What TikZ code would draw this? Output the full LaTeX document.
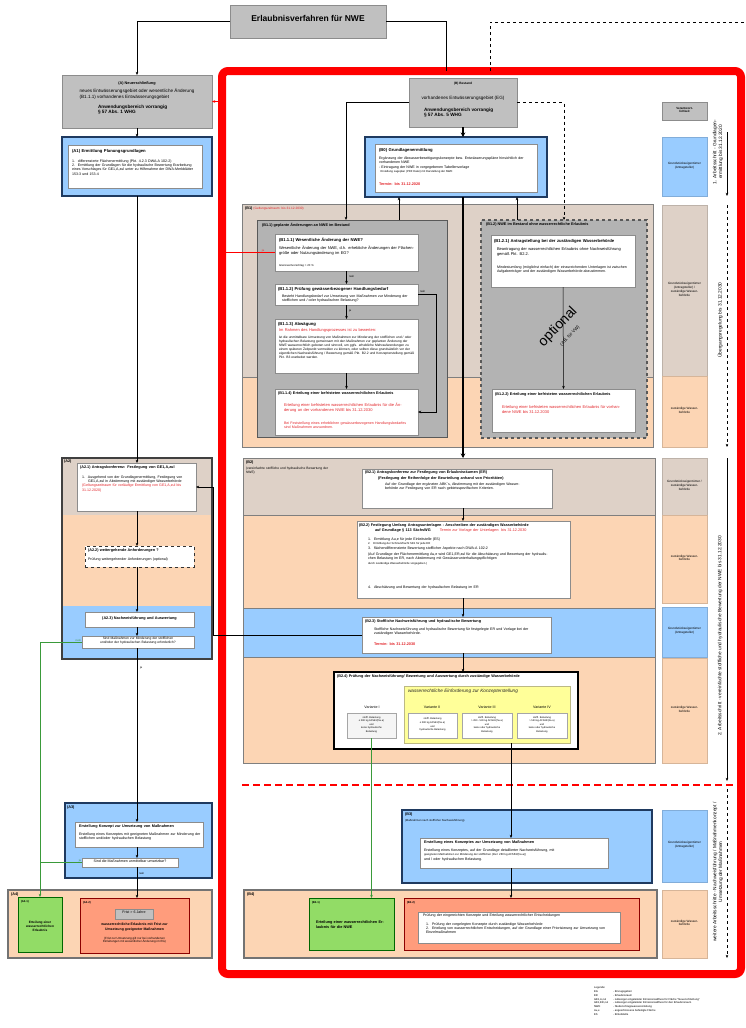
\documentclass[tikz,border=0pt]{standalone}
\usepackage{fontspec}
\setmainfont{Liberation Sans}
\usetikzlibrary{arrows.meta,fit,calc}
\definecolor{boxgray}{HTML}{C0C0C0}
\definecolor{bordgray}{HTML}{8C8C8C}
\definecolor{tanc}{HTML}{DED1C7}
\definecolor{orangec}{HTML}{FCD5B4}
\definecolor{bluec}{HTML}{99CCFF}
\definecolor{navyc}{HTML}{1F3A60}
\definecolor{midgray}{HTML}{B3B3B3}
\definecolor{greenc}{HTML}{92DC66}
\definecolor{salmonc}{HTML}{FF9C7C}
\definecolor{yellowc}{HTML}{FFFF99}
\definecolor{greenl}{HTML}{3A9A3A}
\definecolor{redc}{HTML}{FF0000}
\definecolor{txtred}{HTML}{E3262B}
\definecolor{framec}{HTML}{7F7F7F}
\newcommand\nsp{\spaceskip=0pt\xspaceskip=0pt\relax}
\newcommand\sT{\fontsize{8.5}{10}\selectfont\bfseries\nsp}
\newcommand\sH{\fontsize{4.2}{5}\selectfont\bfseries\nsp}
\newcommand\sHs{\fontsize{3.8}{4.6}\selectfont\bfseries\nsp}
\newcommand\sN{\fontsize{4}{4.8}\selectfont\nsp}
\newcommand\sM{\fontsize{3.6}{4.3}\selectfont\nsp}
\newcommand\sS{\fontsize{2.8}{3.4}\selectfont\nsp}
\newcommand\sP{\fontsize{4.8}{5.6}\selectfont\nsp}
\newcommand\itm[2]{\par\hangindent=6pt\hangafter=1\noindent\makebox[6pt][l]{#1}#2}
\tikzset{
  every node/.style={inner sep=0pt, outer sep=0pt},
  gbox/.style={draw=bordgray, fill=boxgray, line width=0.6pt},
  wbox/.style={draw=black!45, fill=white, line width=0.4pt},
  bfr/.style={draw=navyc, fill=bluec, line width=1.3pt},
  fr/.style={draw=framec, line width=1pt},
  tx/.style={anchor=north west, align=left, text width=#1pt},
  ctx/.style={anchor=north, align=center, text width=#1pt},
  arr/.style={-{Stealth[length=3.2pt,width=2.6pt]}, line width=0.5pt},
  thk/.style={line width=2pt, -{Stealth[length=4.5pt,width=4.5pt]}},
  grn/.style={draw=greenl, line width=0.6pt},
  lbl/.style={font=\sS},
  resp/.style={draw=#1!85!black, fill=#1, line width=0.3pt, align=center, font=\fontsize{3.1}{3.8}\selectfont},
  vbox/.style={draw=black!35, line width=0.4pt, align=center, font=\fontsize{2.5}{3.6}\selectfont},
  phase/.style={rotate=90, align=center, font=\sP},
}
\begin{document}
\begin{tikzpicture}[x=1pt,y=-1pt]
\useasboundingbox[fill=white] (0,0) rectangle (745,1028);

% ---------------- red frame
\node[draw=redc, line width=8pt, rounded corners=6pt, fit={(222,71)(741,974)}] (RF) {};

% ---------------- title
\node[gbox, fit={(230,5)(386,38)}, font=\sT] (T) {Erlaubnisverfahren für NWE};
\coordinate (cT) at (446,21.5);
\coordinate (cD) at (490,22);
\coordinate (cDe) at (745,22);
\draw[line width=0.7pt] (T.east) -- (cT) -- (cT |- RF.north);
\draw[dashed, line width=0.5pt] (cD |- RF.north) -- (cD) -- (cDe);

% ---------------- column A
\coordinate (cA) at (137,0);
\node[gbox, fit={(62,75)(212,128)}] (A) {};
\node[font=\sHs] at (137,84) {(A) Neuerschließung};
\node[anchor=north, align=left, font=\fontsize{4.6}{5.8}\selectfont] at (137,89) {neues Entwässerungsgebiet oder wesentliche Änderung\\(B1.1.1) vorhandenes Entwässerungsgebiet};
\node[anchor=north west, align=left, font=\fontsize{4.7}{5.2}\selectfont\bfseries] at (98,105) {Anwendungsbereich vorrangig\\§ 57 Abs. 1 WHG};
\draw[arr] (T.west) -| (A.north);
\draw[arr, draw=redc, line width=0.8pt] (RF.west |- A.east) -- (A.east);

\node[bfr, fit={(62,137)(212,196)}] (A1) {};
\node[wbox, fit={(68,145)(202,188)}] (A1w) {};
\node[tx=128, font=\sH] at (72,149) {(A1) Ermittlung Planungsgrundlagen};
\node[tx=126, font=\sM] at (72,158) {\itm{1.}{differenzierte Flächenermittlung (Pkt. 4.2.3 DWA-A 102-2)}\itm{2.}{Ermittlung der Grundlagen für die hydraulische Bewertung Erarbeitung eines Vorschlages für GE1,A,zul unter zu Hilfenahme der DWA-Merkblätter 153-3 und 153-4}};
\draw[arr] (A.south) -- (A1.north);

% A2
\fill[tanc] (62,458) rectangle (212,515);
\fill[orangec] (62,515) rectangle (212,606);
\fill[bluec] (62,606) rectangle (212,659);
\node[draw=black!75, line width=1.2pt, fit={(62,458)(212,659)}] (A2) {};
\node[anchor=north west, font=\sHs] at (64,460) {(A2)};
\node[wbox, fit={(77,463)(196,511)}] (A21) {};
\node[tx=112, font=\sHs] at (80,466) {(A2.1) Antragskonferenz: Festlegung von GE1,A,zul};
\node[tx=108, font=\sM] at (82,474) {\itm{1.}{Ausgehend von der Grundlagenermittlung, Festlegung von GE1,A,zul in Abstimmung mit zuständiger Wasserbehörde}\par\noindent{\color{txtred}(Geltungszeitraum für vorläufige Ermittlung von GE1,A,zul bis 31.12.2020)}};
\node[draw=black!80, dashed, line width=0.9pt, fill=white, fit={(85,546)(194,567)}] (A22) {};
\node[tx=104, font=\sHs] at (88,549) {(A2.2) weitergehende Anforderungen ?};
\node[tx=104, font=\sM] at (88,558) {Prüfung weitergehender Anforderungen (optional)};
\node[wbox, fit={(85,612)(194,627)}, font=\sHs] (A23) {(A2.3) Nachweisführung und Auswertung};
\node[wbox, fit={(82,636)(194,648)}, align=center, font=\fontsize{3.3}{4.2}\selectfont] (A2d) {Sind Maßnahmen zur Minderung der stofflichen\\ und/oder der hydraulischen Belastung erforderlich?};
\draw[arr] (A1.south) -- (A21.north -| cA);
\draw[arr] (A21.south -| cA) -- (A22.north -| cA);
\draw[arr] (A22.south -| cA) -- (A23.north -| cA);
\draw[arr] (A23.south -| cA) -- (A2d.north -| cA);

% A3
\node[bfr, fit={(65,803)(212,878)}] (A3) {};
\node[anchor=north west, font=\sHs] at (67,806) {(A3)};
\node[wbox, fit={(75,822)(203,847)}] (A3w) {};
\node[tx=122, font=\sHs] at (79,825) {Erstellung Konzept zur Umsetzung von Maßnahmen};
\node[tx=122, font=\sM] at (79,833) {Erstellung eines Konzeptes mit geeigneten Maßnahmen zur Minderung der stofflichen und/oder hydraulischen Belastung};
\node[wbox, fit={(82,858)(178,867)}, font=\sM] (A3d) {Sind die Maßnahmen unmittelbar umsetzbar?};
\draw[arr] (A2d.south -| cA) -- (A3w.north -| cA);
\node[lbl, anchor=west] at (140,668) {ja};
\draw[arr] (A3w.south -| cA) -- (A3d.north -| cA);

% A4
\node[fill=orangec, draw=black!55, line width=1.2pt, fit={(8,890)(212,958)}] (A4) {};
\node[anchor=north west, font=\sHs] at (11,893) {(A4)};
\node[fill=greenc, draw=green!40!black, line width=0.6pt, fit={(18,897)(62,952)}] (A41) {};
\node[anchor=north west, font=\sS\bfseries] at (21,900) {(A4.1)};
\node[align=center, font=\fontsize{3.2}{4}\selectfont\bfseries] at (40,926) {Erteilung einer\\wasserrechtlichen\\Erlaubnis};
\node[fill=salmonc, draw=red!55!black, line width=0.6pt, fit={(80,898)(189,953)}] (A42) {};
\node[anchor=north west, font=\sS\bfseries] at (83,901) {(A4.2)};
\node[gbox, fit={(115,909)(153,919)}, font=\sM] (Fr) {Frist > 6 Jahre};
\node[align=center, font=\fontsize{3.5}{4.6}\selectfont\bfseries, anchor=north] at (134.5,923) {wasserrechtliche Erlaubnis mit Frist zur\\Umsetzung geeigneter Maßnahmen};
\node[align=center, font=\fontsize{3}{3.8}\selectfont, anchor=north] at (134.5,937) {(Frist zur Umsetzung gilt nur bei vorhandenen\\Einleitungen mit wesentlicher Änderung im EG)};
\draw[arr] (A3d.south -| cA) -- (A42.north -| cA);
\node[lbl, anchor=west] at (139,873) {nein};

% green connectors
\draw[grn, arr] (A2d.west) -| (A41.north);
\node[lbl, text=greenl, anchor=south east] at (81,642) {nein};
\draw[grn] (A3d.west) -- (A3d.west -| A41.north);
\node[lbl, text=greenl, anchor=south east] at (81,862) {ja};

% ---------------- column B
\node[gbox, fit={(409,78)(517,127)}] (B) {};
\node[font=\fontsize{3.2}{4}\selectfont\bfseries] at (463,84) {(B) Bestand};
\node[font=\fontsize{4.6}{5}\selectfont] at (463,98) {vorhandenes Entwässerungsgebiet (EG)};
\node[anchor=north west, align=left, font=\fontsize{4.7}{5.2}\selectfont\bfseries] at (424,108) {Anwendungsbereich vorrangig\\§ 57 Abs. 5 WHG};

\node[bfr, fit={(365,137)(547,197)}] (B0) {};
\node[wbox, fit={(375,144)(537,192)}] (B0w) {};
\node[tx=156, font=\sH] at (379,148) {(B0) Grundlagenermittlung};
\node[tx=156, font=\sM] at (379,157) {Ergänzung der Abwasserbeseitigungskonzepte bzw. Entwässerungspläne hinsichtlich der vorhandenen NWE\\ - Eintragung der NWE in vorgegebenen Tabellenvorlage\\ {\sS\ \ Erstellung Lageplan (PDF Datei) mit Darstellung der NWE}};
\node[tx=156, font=\sHs, text=txtred] at (379,183) {Termin: bis 31.12.2020};
\draw[thk] (B.south) -- (B.south |- B0.north);

% B1
\fill[tanc] (242,204) rectangle (653,377);
\fill[orangec] (242,377) rectangle (653,447);
\draw[framec, line width=0.5pt] (242,377) -- (653,377);
\node[fr, fit={(242,204)(653,447)}] (B1) {};
\node[anchor=north west, font=\sHs] at (245,207) {(B1) {\mdseries\fontsize{3.2}{4}\selectfont\nsp\color{txtred}(Geltungszeitraum: bis 31.12.2030)}};

\node[fill=midgray, draw=black!65, line width=1pt, fit={(257,220)(447,437)}] (B11) {};
\node[anchor=north west, font=\sHs] at (262,223) {(B1.1) geplante Änderungen an NWE im Bestand};
\node[wbox, fit={(275,234)(418,271)}] (B111) {};
\node[tx=137, font=\sH] at (279,238) {(B1.1.1) Wesentliche Änderung der NWE?};
\node[tx=137, font=\sN] at (279,246) {Wesentliche Änderung der NWE, d.h. erhebliche Änderungen der Flächengröße oder Nutzungsänderung im EG?};
\node[tx=137, font=\sS] at (279,264) {Grenzwertvorschlag > 20 \%};
\node[wbox, fit={(275,284)(418,305)}] (B112) {};
\node[tx=137, font=\sH] at (278,287) {(B1.1.2) Prüfung gewässerbezogener Handlungsbedarf};
\node[tx=132, font=\sM] at (282,295) {Besteht Handlungsbedarf zur Umsetzung von Maßnahmen zur Minderung der stofflichen und / oder hydraulischen Belastung?};
\node[wbox, fit={(275,319)(418,373)}] (B113) {};
\node[tx=137, font=\sH] at (278,322) {(B1.1.3) Abwägung};
\node[tx=137, font=\sN, text=txtred] at (279,329) {Im Rahmen des Handlungsprozesses ist zu bewerten:};
\node[tx=137, font=\fontsize{3.3}{4}\selectfont] at (279,336) {ist die unmittelbare Umsetzung von Maßnahmen zur Minderung der stofflichen und / oder hydraulischen Belastung gemeinsam mit den Maßnahmen zur geplanten Änderung der NWE wasserrechtlich geboten und sinnvoll, um ggfs. erhebliche Mehraufwendungen zu einem späteren Zeitpunkt vermeiden zu können, oder sollten diese grundsätzlich vor der eigentlichen Nachweisführung / Bewertung gemäß Pkt. B2.2 und Konzepterstellung gemäß Pkt. B3 erarbeitet werden.};
\node[wbox, fit={(275,389)(418,435)}] (B114) {};
\node[tx=137, font=\sHs] at (278,392) {(B1.1.4) Erteilung einer befristeten wasserrechtlichen Erlaubnis};
\node[tx=125, font=\sN, text=txtred] at (284,403) {Erteilung einer befristeten wasserrechtlichen Erlaubnis für die Änderung an der vorhandenen NWE bis 31.12.2030};
\node[tx=125, font=\sM, text=txtred] at (284,422) {Bei Feststellung eines erheblichen gewässerbezogenen Handlungsbedarfes sind Maßnahmen anzuordnen.};

\coordinate (cN) at (436,0);
\draw[arr] (B111.south) -- (B112.north);
\node[lbl, anchor=west] at (349,276) {nein};
\draw[arr] (B112.south) -- (B113.north);
\node[lbl, anchor=west] at (349,311) {ja};
\draw[arr] (B113.south) -- (B114.north);
\draw[arr] (B112.east) -- (B112.east -| cN) |- (B114.east);
\node[lbl, anchor=south west] at (420,293) {nein};
\draw[draw=redc, line width=0.8pt] (B111.west) -- (B111.west -| RF.west);
\node[lbl, text=txtred, anchor=south] at (263,252) {ja};

\node[fill=midgray, draw=black!65, dashed, line width=1.2pt, fit={(481,220)(647,438)}] (B12) {};
\node[anchor=north west, font=\sHs] at (486,223) {(B1.2) NWE im Bestand ohne wasserrechtliche Erlaubnis};
\node[wbox, fit={(491,235)(635,287)}] (B121) {};
\node[tx=140, font=\sH] at (494,239) {(B1.2.1) Antragstellung bei der zuständigen Wasserbehörde};
\node[tx=132, font=\sN] at (497,248) {Beantragung der wasserrechtlichen Erlaubnis ohne Nachweisführung gemäß Pkt. B2.2.};
\node[tx=132, font=\sM] at (497,266) {Mindestumfang (möglichst einfach) der einzureichenden Unterlagen ist zwischen Aufgabenträger und der zuständigen Wasserbehörde abzustimmen.};
\node[wbox, fit={(492,389)(635,432)}] (B122) {};
\node[tx=140, font=\sHs] at (495,393) {(B1.2.2) Erteilung einer befristeten wasserrechtlichen Erlaubnis};
\node[tx=122, font=\sN, text=txtred] at (502,406) {Erteilung einer befristeten wasserrechtlichen Erlaubnis für vorhandene NWE bis 31.12.2030};
\draw[arr] (B121.south) -- (B122.north);
\node[rotate=46, font=\fontsize{14}{14}\selectfont] at (558,327) {optional};
\node[rotate=46, font=\fontsize{4.5}{5}\selectfont] at (570,336) {(z.B. für VW)};

\coordinate (u1) at ([xshift=34pt]B0.south west);
\coordinate (u2) at ([xshift=-30pt]B0.south east);
\coordinate (v1) at ([xshift=89pt]B11.north west);
\draw[arr] (u1 |- B11.north) -- (u1);
\draw[arr] (u2 |- B12.north) -- (u2);
\draw[arr] (B.west) -| (v1);
\draw[arr, dashed] (B.east) -| (B12.north);

% B2
\fill[tanc] (243,458) rectangle (655,515);
\fill[orangec] (243,515) rectangle (655,608);
\fill[bluec] (243,608) rectangle (655,657);
\fill[orangec] (243,657) rectangle (655,763);
\draw[framec, line width=0.5pt] (243,515) -- (655,515) (243,608) -- (655,608) (243,657) -- (655,657);
\node[fr, fit={(243,458)(655,763)}] (B2) {};
\draw[thk] (B.south |- B0.south) -- (B.south |- B2.north);
\node[anchor=north west, font=\sHs] at (246,461) {(B2)};
\node[tx=90, font=\fontsize{3.3}{4}\selectfont] at (246,467) {(vereinfachte stoffliche und hydraulische Bewertung der NWE)};

\node[wbox, fit={(362,469)(552,508)}] (B21) {};
\node[tx=186, font=\sHs] at (365,471) {(B2.1) Antragskonferenz zur Festlegung von Erlaubnisräumen (ER)};
\node[tx=175, font=\sHs] at (378,477) {(Festlegung der Reihenfolge der Beurteilung anhand von Prioritäten)};
\node[tx=138, font=\sM] at (385,483) {Auf der Grundlage der ergänzten ABK´s, Abstimmung mit der zuständigen Wasserbehörde zur Festlegung von ER nach gebietsspezifischen Kriterien.};

\node[wbox, fit={(357,521)(570,598)}] (B22) {};
\node[tx=210, font=\sHs] at (359,524) {(B2.2) Festlegung Umfang Antragsunterlagen - Anschreiben der zuständigen Wasserbehörde};
\node[tx=195, font=\sHs] at (375,529) {auf Grundlage § 113 SächsWG\hspace{9pt}{\color{txtred}\mdseries Termin zur Vorlage der Unterlagen: bis 31.12.2030}};
\node[tx=185, font=\sM] at (368,538) {1.\hspace{3pt}Ermittlung Au,e für jede Einleitstelle (ES)\\ {\sS 2.\hspace{3pt}Ermittlung der Schmutzfracht SE1 für jede ER}\\ 3.\hspace{3pt}flächendifferenzierte Bewertung stofflicher Aspekte nach DWA-A 102-2};
\node[tx=185, font=\sM] at (368,553) {(Auf Grundlage der Flächenermittlung Au,e wird GE1,ER,zul für die Abschätzung und Bewertung der hydraulischen Belastung im ER, nach Abstimmung mit Gewässerunterhaltungspflichtigen\\ {\sS durch zuständige Wasserbehörde vorgegeben.)}};
\node[tx=185, font=\sM] at (368,586) {4.\hspace{3pt}Abschätzung und Bewertung der hydraulischen Belastung im ER};

\node[wbox, fit={(362,617)(551,653)}] (B23) {};
\node[tx=186, font=\sHs] at (365,620) {(B2.3) Stoffliche Nachweisführung und hydraulische Bewertung};
\node[tx=165, font=\sM] at (374,628) {Stoffliche Nachweisführung und hydraulische Bewertung für festgelegte ER und Vorlage bei der zuständigen Wasserbehörde.};
\node[tx=165, font=\sHs, text=txtred] at (374,643) {Termin: bis 31.12.2030};

\node[draw=black, line width=1.5pt, fill=white, fit={(334,672)(578,749)}] (B24) {};
\node[tx=240, font=\sHs] at (337,675) {(B2.4) Prüfung der Nachweisführung/ Bewertung und Auswertung durch zuständige Wasserbehörde};
\node[fill=yellowc, draw=yellow!50!black!60, line width=0.6pt, fit={(404,686)(570,743)}] (Y) {};
\node[anchor=north west, font=\fontsize{4.7}{5}\selectfont\itshape, text=black!85] at (408,689) {wasserrechtliche Einforderung zur Konzepterstellung};
\node[font=\sM] at (372,707) {Variante I};
\node[font=\sM] at (432,707) {Variante II};
\node[font=\sM] at (487,707) {Variante III};
\node[font=\sM] at (542,707) {Variante IV};
\node[vbox, fill=gray!8, fit={(347,713)(396,738)}] (V1) {stoffl. Belastung\\≤ 280 kg AFS63/(ha·a)\\und\\keine hydraulische\\Belastung};
\node[vbox, fill=white, fit={(408,713)(457,738)}] (V2) {stoffl. Belastung\\≤ 280 kg AFS63/(ha·a)\\und\\hydraulische Belastung};
\node[vbox, fill=white, fit={(462,713)(512,738)}] (V3) {stoffl. Belastung\\> 280 - 530 kg AFS63/(ha·a)\\und\\keine oder hydraulische\\Belastung};
\node[vbox, fill=white, fit={(517,713)(567,738)}] (V4) {stoffl. Belastung\\> 530 kg AFS63/(ha·a)\\und\\keine oder hydraulische\\Belastung};

\coordinate (cx) at (463,0);
\draw[arr] (B21.south -| cx) -- (B22.north -| cx);
\draw[arr] (B22.south -| cx) -- (B23.north -| cx);
\draw[arr] (B23.south -| cx) -- (B24.north -| cx);

% back arrow B2.3 -> A2.1
\coordinate (cL) at (213,0);
\draw[arr] (B23.west) -- (B23.west -| cL) |- (A21.east);

% red dashed separator
\coordinate (sd1) at (242,785);
\coordinate (sd2) at (737,785);
\draw[redc, line width=1.3pt, dash pattern=on 7pt off 4pt] (sd1) -- (sd2);

% B3
\node[bfr, fit={(402,810)(652,883)}] (B3) {};
\node[anchor=north west, font=\sHs] at (405,813) {(B3)};
\node[anchor=north west, font=\sS] at (405,819) {(Maßnahmen nach stofflicher Nachweisführung)};
\node[wbox, fit={(420,838)(608,868)}] (B3w) {};
\node[tx=180, font=\sHs] at (424,841) {Erstellung eines Konzeptes zur Umsetzung von Maßnahmen};
\node[tx=180, font=\sM] at (424,849) {Erstellung eines Konzeptes, auf der Grundlage detaillierter Nachweisführung, mit\\{\sS geeigneten Maßnahmen zur Minderung der stofflichen (Ziel: 280 kg AFS63/(ha·a))}\\und / oder hydraulischen Belastung.};

% B4
\node[fill=orangec, draw=black!55, line width=1.2pt, fit={(244,890)(657,958)}] (B4) {};
\node[anchor=north west, font=\sHs] at (247,893) {(B4)};
\node[fill=greenc, draw=green!40!black, line width=0.6pt, fit={(309,898)(394,950)}] (B41) {};
\node[anchor=north west, font=\sS\bfseries] at (312,901) {(B4.1)};
\node[tx=72, font=\fontsize{3.8}{4.8}\selectfont\bfseries] at (316,921) {Erteilung einer wasserrechtlichen Erlaubnis für die NWE};
\node[fill=salmonc, draw=red!55!black, line width=0.6pt, fit={(404,898)(639,950)}] (B42) {};
\node[anchor=north west, font=\sS\bfseries] at (407,901) {(B4.2)};
\node[wbox, fit={(418,912)(620,943)}] (B42w) {};
\node[tx=195, font=\sM] at (423,914) {Prüfung der eingereichten Konzepte und Erteilung wasserrechtlicher Entscheidungen};
\node[tx=190, font=\sM] at (426,921) {\itm{1.}{Prüfung der vorgelegten Konzepte durch zuständige Wasserbehörde}\itm{2.}{Erteilung von wasserrechtlichen Entscheidungen, auf der Grundlage einer Priorisierung zur Umsetzung von Einzelmaßnahmen}};

\coordinate (cY) at (511,0);
\draw[grn, arr] (V1.south) -- (V1.south |- B41.north);
\draw[arr] (Y.south -| cY) -- (B3w.north -| cY);
\draw[arr] (B3w.south -| cY) -- (B42.north -| cY);

% ---------------- responsibility column
\node[gbox, fit={(662,102)(707,120)}, align=center, font=\fontsize{3}{3.8}\selectfont\bfseries] (VH) {Verantwort-\\lichkeit};
\node[resp=bluec, fit={(662,137)(707,196)}] (R1) {Grundstückseigentümer\\(Antragsteller)};
\node[resp=tanc, fit={(662,205)(707,376)}] (R2) {Grundstückseigentümer\\(Antragsteller) /\\zuständige Wasser-\\behörde};
\node[resp=orangec, fit={(662,376)(707,447)}] (R3) {zuständige Wasser-\\behörde};
\node[resp=tanc, fit={(662,458)(707,515)}] (R4) {Grundstückseigentümer /\\zuständige Wasser-\\behörde};
\node[resp=orangec, fit={(662,515)(707,603)}] (R5) {zuständige Wasser-\\behörde};
\node[resp=bluec, fit={(662,607)(707,657)}] (R6) {Grundstückseigentümer\\(Antragsteller)};
\node[resp=orangec, fit={(662,658)(707,763)}] (R7) {zuständige Wasser-\\behörde};
\node[resp=bluec, fit={(662,810)(707,882)}] (R8) {Grundstückseigentümer\\(Antragsteller)};
\node[resp=orangec, fit={(662,890)(707,958)}] (R9) {zuständige Wasser-\\behörde};

% phase arrows
\coordinate (p1a) at (727,132); \coordinate (p1b) at (727,196);
\coordinate (p2a) at (727,205); \coordinate (p2b) at (727,447);
\coordinate (p3a) at (727,458); \coordinate (p3b) at (727,781);
\coordinate (p4a) at (727,789); \coordinate (p4b) at (727,958);
\draw[arr, line width=0.8pt] (p1a) -- (p1b);
\draw[arr, line width=0.8pt, dashed] (p2a) -- (p2b);
\draw[arr, line width=0.8pt] (p3a) -- (p3b);
\draw[arr, line width=0.8pt, dashed] (p4a) -- (p4b);
\node[phase] at (718,152) {1. Arbeitsschritt - Grundlagen-\\ermittlung bis 31.12.2020};
\node[phase] at (720,320) {Übergangsregelung bis 31.12.2030};
\node[phase] at (720,636) {2. Arbeitsschritt - vereinfachte stoffliche und hydraulische Bewertung der NWE bis 31.12.2030};
\node[phase] at (718,872) {weitere Arbeitsschritte - Nachweisführung / Maßnahmenkonzept /\\Umsetzung der Maßnahmen};

% ---------------- legend
\node[anchor=north west, font=\fontsize{2.7}{3.8}\selectfont] (LEG) at (594,986) {\begin{tabular}{@{}l@{\hspace{5pt}}l@{}}\multicolumn{2}{@{}l@{}}{Legende:}\\
EG & - Einzugsgebiet\\
ER & - Erlaubnisraum\\
GE1,A,zul & - zulässiger eingeleiteter Emissionsabfluss für Fläche "Neuerschließung"\\
GE1,ER,zul & - zulässiger eingeleiteter Emissionsabfluss für den Erlaubnisraum\\
NWE & - Niederschlagswassereinleitung\\
Au,e & - angeschlossene befestigte Fläche\\
ES & - Einleitstelle\end{tabular}};
\end{tikzpicture}
\end{document}
